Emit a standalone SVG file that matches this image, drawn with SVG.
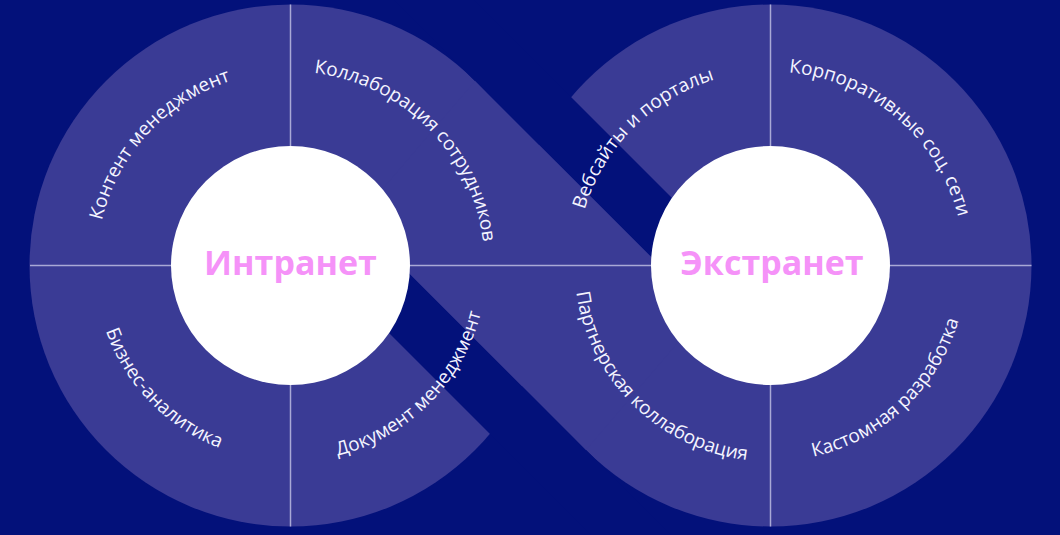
<svg xmlns="http://www.w3.org/2000/svg" width="1060" height="535" viewBox="0 0 1060 535">
  <defs>
    <style>
      .bg { fill: #03117a; }
      .ring { fill: #3a3b95; }
      .gap { fill: #03117a; }
      .hole { fill: #ffffff; }
      .div { stroke: #a9a9d6; stroke-width: 1.5; fill: none; }
      .title { font-family: "Open Sans", "Noto Sans", sans-serif; font-weight: 700; font-size: 34px; fill: #f592f8; text-anchor: middle; }
      .lbl { font-family: "Open Sans", "Noto Sans", sans-serif; font-size: 19px; fill: #f4f4ff; }
    </style>
    <path id="pLtl" d="M 96.5 265.5 A 194 194 0 0 1 290.5 71.5"/>
    <path id="pLtr" d="M 290.5 71.5 A 194 194 0 0 1 484.5 265.5"/>
    <path id="pLbl" d="M 94.5 265.5 A 196 196 0 0 0 290.5 461.5"/>
    <path id="pLbr" d="M 290.5 461.5 A 196 196 0 0 0 486.5 265.5"/>
    <path id="pRtl" d="M 576.5 265.5 A 194 194 0 0 1 770.5 71.5"/>
    <path id="pRtr" d="M 770.5 71.5 A 194 194 0 0 1 964.5 265.5"/>
    <path id="pRbl" d="M 574.5 265.5 A 196 196 0 0 0 770.5 461.5"/>
    <path id="pRbr" d="M 770.5 461.5 A 196 196 0 0 0 966.5 265.5"/>
  </defs>

  <rect class="bg" x="0" y="0" width="1060" height="535"/>

  <g id="infinity-shape">
    <circle class="ring" cx="290.5" cy="265.5" r="261"/>
    <circle class="ring" cx="770.5" cy="265.5" r="261"/>
    <polygon class="gap" points="739.5,265.5 454,-20 374,-20 659.5,265.5"/>
    <polygon class="gap" points="321.5,265.5 401.5,265.5 696,560 616,560"/>
    <polygon class="ring" points="475.05,80.95 705,310.9 585.95,450.05 356,220.1"/>
  </g>

  <g id="connectors">
    <line class="div" x1="30" y1="265.5" x2="1031.5" y2="265.5"/>
    <line class="div" x1="290.5" y1="4.5" x2="290.5" y2="526.5"/>
    <line class="div" x1="770.5" y1="4.5" x2="770.5" y2="526.5"/>
  </g>

  <g id="intranet">
    <circle class="hole" cx="290.5" cy="265.5" r="119.5"/>
    <text class="title" x="290.5" y="275">Интранет</text>
  </g>
  <g id="extranet">
    <circle class="hole" cx="770.5" cy="265.5" r="119.5"/>
    <text class="title" x="772" y="275">Экстранет</text>
  </g>

  <g id="content-management"><text class="lbl"><textPath href="#pLtl" startOffset="47.5%" text-anchor="middle">Контент менеджмент</textPath></text></g>
  <g id="employee-collaboration"><text class="lbl"><textPath href="#pLtr" startOffset="50%" text-anchor="middle">Коллаборация сотрудников</textPath></text></g>
  <g id="business-analytics"><text class="lbl"><textPath href="#pLbl" startOffset="49%" text-anchor="middle">Бизнес-аналитика</textPath></text></g>
  <g id="document-management"><text class="lbl"><textPath href="#pLbr" startOffset="50%" text-anchor="middle">Документ менеджмент</textPath></text></g>
  <g id="websites-portals"><text class="lbl"><textPath href="#pRtl" startOffset="50%" text-anchor="middle">Вебсайты и порталы</textPath></text></g>
  <g id="corporate-social"><text class="lbl"><textPath href="#pRtr" startOffset="45%" text-anchor="middle">Корпоративные соц. сети</textPath></text></g>
  <g id="partner-collaboration"><text class="lbl"><textPath href="#pRbl" startOffset="50.5%" text-anchor="middle">Партнерская коллаборация</textPath></text></g>
  <g id="custom-development"><text class="lbl"><textPath href="#pRbr" startOffset="48%" text-anchor="middle">Кастомная разработка</textPath></text></g>
</svg>
